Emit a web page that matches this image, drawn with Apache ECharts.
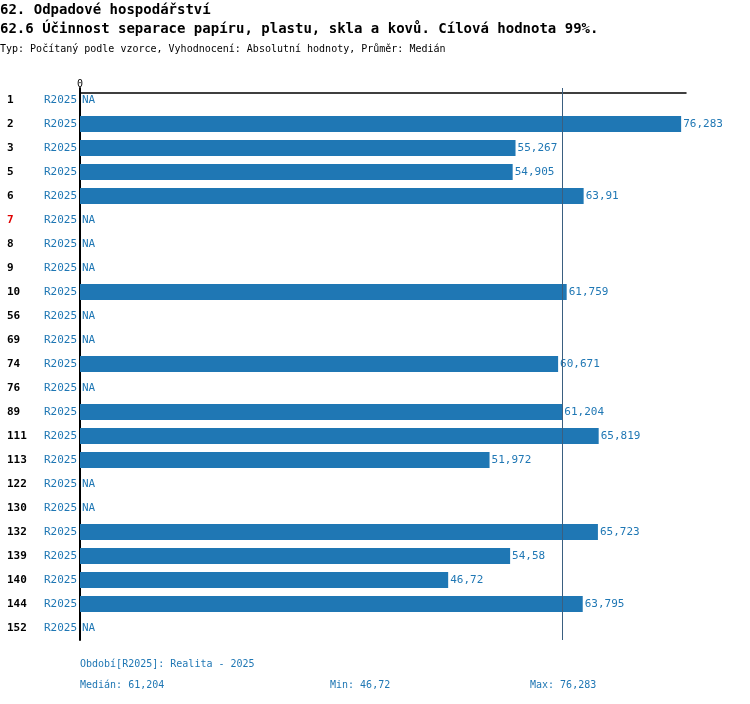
<!DOCTYPE html>
<html><head><meta charset="utf-8">
<script src="https://cdn.jsdelivr.net/npm/echarts@6/dist/echarts.min.js"></script>
<style>body{margin:0}#c{width:750px;height:704px}</style>
</head><body><div id="c"></div>
<script>
var ids = ["1","2","3","5","6","7","8","9","10","56","69","74","76","89","111","113","122","130","132","139","140","144","152"];
var period = "R2025";
var values = [null,76.283,55.267,54.905,63.91,null,null,null,61.759,null,null,60.671,null,61.204,65.819,51.972,null,null,65.723,54.58,46.72,63.795,null];
var redIds = ["7"];
var median = 61.204, minV = 46.72, maxV = 76.283;

var font = "DejaVu Sans Mono";
var blue = "#1f77b4";
function fmt(v) { return String(v).replace(".", ","); }

var chart = echarts.init(document.getElementById("c"));
chart.setOption({
	animation: false,
	textStyle: { fontFamily: font },
	graphic: [
		{ type: "text", left: 0, top: 3, style: { text: "62. Odpadové hospodářství", font: "bold 14px " + font, fill: "#000" } },
		{ type: "text", left: 0, top: 22, style: { text: "62.6 Účinnost separace papíru, plastu, skla a kovů. Cílová hodnota 99%.", font: "bold 14px " + font, fill: "#000" } },
		{ type: "text", left: 0, top: 44, style: { text: "Typ: Počítaný podle vzorce, Vyhodnocení: Absolutní hodnoty, Průměr: Medián", font: "10px " + font, fill: "#000" } },
		{ type: "text", left: 80, top: 659, style: { text: "Období[" + period + "]: Realita - 2025", font: "10px " + font, fill: blue } },
		{ type: "text", left: 80, top: 680, style: { text: "Medián: " + fmt(median), font: "10px " + font, fill: blue } },
		{ type: "text", left: 330, top: 680, style: { text: "Min: " + fmt(minV), font: "10px " + font, fill: blue } },
		{ type: "text", left: 530, top: 680, style: { text: "Max: " + fmt(maxV), font: "10px " + font, fill: blue } }
	],
	grid: { left: 80, top: 88, width: 606, height: 552 },
	xAxis: {
		type: "value", position: "top", min: 0, max: 76.9, interval: 76.9, offset: -5,
		axisLine: { show: true, lineStyle: { color: "#000", width: 1.5 } },
		axisTick: { show: false }, splitLine: { show: false },
		axisLabel: { fontFamily: font, fontSize: 10, color: "#000", margin: 4,
			formatter: function (v) { return v === 0 ? "0" : ""; } }
	},
	yAxis: {
		type: "category", inverse: true, data: ids,
		axisLine: { show: true, lineStyle: { color: "#000", width: 2 } },
		axisTick: { show: false },
		axisLabel: {
			margin: 3,
			formatter: function (v) {
				return (redIds.indexOf(v) >= 0 ? "{r|" + v + "}" : "{a|" + v + "}") + "{b|" + period + "}";
			},
			rich: {
				a: { width: 36, align: "left", fontFamily: font, fontSize: 11, fontWeight: "bold", color: "#000" },
				r: { width: 36, align: "left", fontFamily: font, fontSize: 11, fontWeight: "bold", color: "#e00000" },
				b: { width: 34, align: "right", fontFamily: font, fontSize: 11, color: blue }
			}
		}
	},
	series: [{
		type: "bar", barWidth: 16,
		itemStyle: { color: blue },
		data: values.map(function (v) { return v === null ? { value: 0, na: true } : { value: v }; }),
		label: { show: true, position: "right", distance: 2, fontFamily: font, fontSize: 11, color: blue,
			formatter: function (p) { return p.data.na ? "NA" : fmt(p.value); } },
		markLine: {
			silent: true, symbol: "none", label: { show: false },
			lineStyle: { color: "#3a5f80", width: 1, type: "solid" },
			data: [{ xAxis: median }]
		}
	}]
});
</script>
</body></html>
